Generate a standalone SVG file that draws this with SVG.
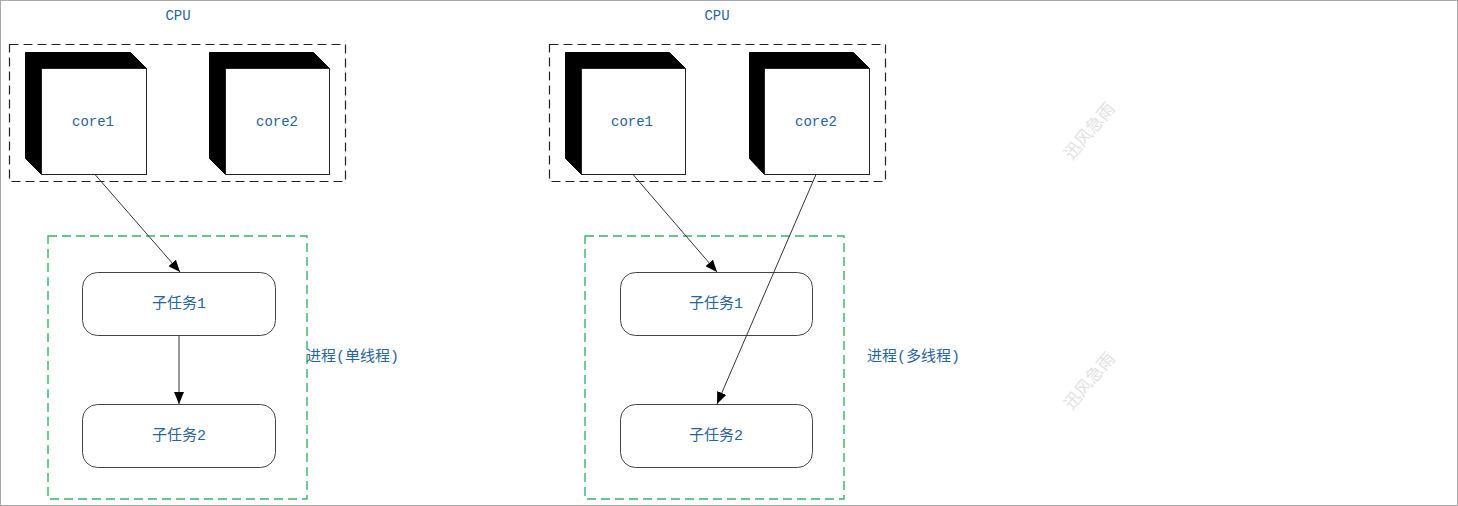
<svg xmlns="http://www.w3.org/2000/svg" width="1458" height="506" viewBox="0 0 1458 506">
<defs>
<style>
.t{font-family:"Liberation Mono","Noto Sans CJK SC",monospace;font-size:14px;fill:#2a6496;text-anchor:middle;dominant-baseline:central}
.tc{font-family:"Liberation Mono","Noto Sans CJK SC",monospace;font-size:15px;fill:#2a6496;text-anchor:middle;dominant-baseline:central}
.lab{font-family:"Liberation Mono","Noto Sans CJK SC",monospace;font-size:15px;fill:#2a6496;dominant-baseline:central}
.cpu{fill:none;stroke:#222;stroke-width:1.2;stroke-dasharray:9 5}
.proc{fill:none;stroke:#33b566;stroke-width:1.4;stroke-dasharray:9 5}
.side{fill:#000;stroke:#000;stroke-width:1}
.front{fill:#fff;stroke:#222;stroke-width:1}
.task{fill:#fff;stroke:#444;stroke-width:1}
.edge{fill:none;stroke:#333;stroke-width:1;marker-end:url(#ah)}
.wm{font-family:"Noto Sans CJK SC",sans-serif;font-size:17px;fill:#e2e2e2;text-anchor:middle;dominant-baseline:central}
</style>
<marker id="ah" viewBox="0 0 12 10" refX="12" refY="5" markerWidth="12" markerHeight="10" markerUnits="userSpaceOnUse" orient="auto">
<path d="M0,0 L12,5 L0,10 Z" fill="#000"/>
</marker>
</defs>
<rect x="0.5" y="0.5" width="1457" height="505" fill="#fff" stroke="#aaa"/>

<g id="cpu-left">
<text class="t" x="178" y="16">CPU</text>
<rect class="cpu" x="9.5" y="44.5" width="336" height="137"/>
</g>
<g id="core1-left">
<path class="side" d="M25.5,52.5 L130.5,52.5 L146.5,68.5 L41.5,174.5 L25.5,158.5 Z"/>
<rect class="front" x="41.5" y="68.5" width="105" height="106"/>
<text class="t" x="93" y="122">core1</text>
</g>
<g id="core2-left">
<path class="side" d="M209.5,52.5 L313.5,52.5 L329.5,68.5 L225.5,174.5 L209.5,158.5 Z"/>
<rect class="front" x="225.5" y="68.5" width="104" height="106"/>
<text class="t" x="277" y="122">core2</text>
</g>
<g id="proc-left">
<rect class="proc" x="48" y="236" width="259" height="263"/>
<text class="lab" x="306" y="357">进程(单线程)</text>
</g>
<g id="task1-left">
<rect class="task" x="82.5" y="272.5" width="193" height="63" rx="15"/>
<text class="tc" x="179" y="304">子任务1</text>
</g>
<g id="task2-left">
<rect class="task" x="82.5" y="404.5" width="193" height="63" rx="15"/>
<text class="tc" x="179" y="436">子任务2</text>
</g>

<g id="cpu-right">
<text class="t" x="717" y="16">CPU</text>
<rect class="cpu" x="549.5" y="44.5" width="336" height="137"/>
</g>
<g id="core1-right">
<path class="side" d="M565.5,52.5 L669.5,52.5 L685.5,68.5 L581.5,174.5 L565.5,158.5 Z"/>
<rect class="front" x="581.5" y="68.5" width="104" height="106"/>
<text class="t" x="632" y="122">core1</text>
</g>
<g id="core2-right">
<path class="side" d="M749.5,52.5 L853.5,52.5 L869.5,68.5 L764.5,174.5 L749.5,158.5 Z"/>
<rect class="front" x="764.5" y="68.5" width="105" height="106"/>
<text class="t" x="816" y="122">core2</text>
</g>
<g id="proc-right">
<rect class="proc" x="585" y="236" width="259" height="263"/>
<text class="lab" x="867" y="357">进程(多线程)</text>
</g>
<g id="task1-right">
<rect class="task" x="620.5" y="272.5" width="192" height="63" rx="15"/>
<text class="tc" x="716" y="304">子任务1</text>
</g>
<g id="task2-right">
<rect class="task" x="620.5" y="404.5" width="192" height="63" rx="15"/>
<text class="tc" x="716" y="436">子任务2</text>
</g>

<g id="connectors">
<line class="edge" x1="95" y1="174.5" x2="180" y2="272"/>
<line class="edge" x1="179" y1="336" x2="179" y2="404"/>
<line class="edge" x1="633" y1="174.5" x2="717" y2="272"/>
<line class="edge" x1="816" y1="174.5" x2="717" y2="404"/>
</g>

<g id="watermarks">
<text class="wm" transform="translate(1088,130) rotate(-50)">迅风急雨</text>
<text class="wm" transform="translate(1088,380) rotate(-50)">迅风急雨</text>
</g>
</svg>
